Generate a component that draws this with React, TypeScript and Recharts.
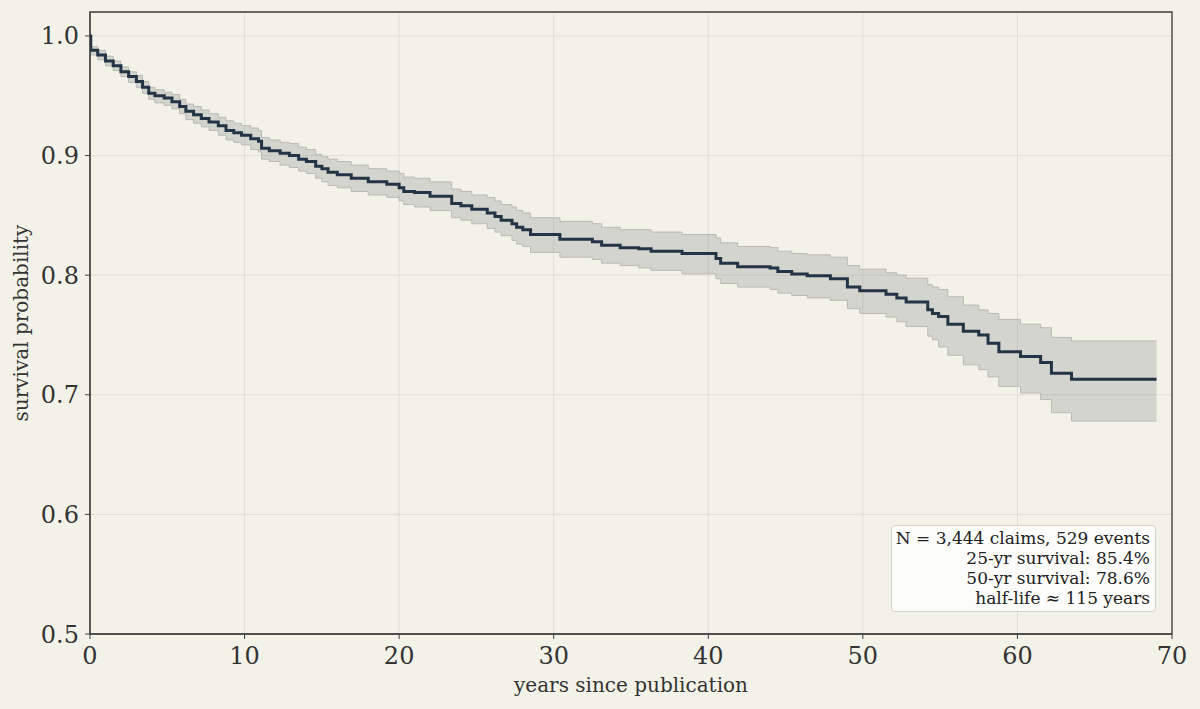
import { ComposedChart, Line, Area, XAxis, YAxis, CartesianGrid, ReferenceArea, Label } from "recharts";

// Kaplan-Meier estimate (step starts, years)
const stepTimes = [
  0, 0.05, 0.5, 1.0, 1.5, 2.0, 2.5, 3.0, 3.4, 3.8, 4.2, 4.8, 5.3, 5.8, 6.2, 6.7, 7.2, 7.7, 8.3, 8.8,
  9.3, 9.8, 10.4, 10.9, 11.1, 11.6, 12.3, 12.9, 13.5, 14.0, 14.6, 15.0, 15.4, 16.0, 16.9, 18.0, 19.2,
  20.0, 20.3, 21.0, 22.0, 23.4, 24.0, 24.7, 25.7, 26.2, 26.6, 27.3, 27.6, 28.0, 28.5, 30.4, 32.5,
  33.1, 34.3, 35.5, 36.3, 38.3, 40.5, 40.8, 41.9, 44.0, 44.5, 45.4, 46.4, 47.9, 49.0, 49.8, 51.5,
  52.2, 52.8, 54.2, 54.5, 54.9, 55.5, 56.5, 57.5, 58.1, 58.8, 60.2, 61.5, 62.2, 63.5, 69.0,
];

const survival = [
  1.0, 0.988, 0.984, 0.979, 0.975, 0.97, 0.966, 0.962, 0.957, 0.952, 0.95, 0.948, 0.945, 0.941, 0.937,
  0.934, 0.931, 0.928, 0.925, 0.921, 0.919, 0.917, 0.914, 0.912, 0.906, 0.904, 0.902, 0.9, 0.897,
  0.895, 0.891, 0.889, 0.886, 0.884, 0.881, 0.878, 0.876, 0.873, 0.87, 0.869, 0.866, 0.86, 0.858,
  0.855, 0.852, 0.849, 0.846, 0.843, 0.84, 0.838, 0.834, 0.83, 0.828, 0.825, 0.823, 0.822, 0.82,
  0.818, 0.814, 0.81, 0.807, 0.806, 0.803, 0.801, 0.7995, 0.797, 0.79, 0.787, 0.784, 0.781, 0.7775,
  0.771, 0.768, 0.7655, 0.759, 0.753, 0.75, 0.743, 0.736, 0.732, 0.727, 0.718, 0.713, 0.713,
];

const lowerCI = [
  1.0, 0.984, 0.98, 0.975, 0.971, 0.966, 0.961, 0.957, 0.952, 0.947, 0.944, 0.942, 0.939, 0.935, 0.93,
  0.927, 0.924, 0.921, 0.917, 0.913, 0.911, 0.909, 0.905, 0.903, 0.897, 0.895, 0.892, 0.89, 0.887,
  0.885, 0.881, 0.878, 0.875, 0.873, 0.87, 0.867, 0.865, 0.862, 0.859, 0.857, 0.854, 0.848, 0.846,
  0.843, 0.839, 0.836, 0.833, 0.829, 0.826, 0.824, 0.819, 0.815, 0.813, 0.81, 0.808, 0.806, 0.804,
  0.801, 0.797, 0.793, 0.79, 0.788, 0.785, 0.783, 0.781, 0.779, 0.772, 0.768, 0.765, 0.761, 0.757,
  0.749, 0.746, 0.74, 0.733, 0.725, 0.721, 0.715, 0.707, 0.7015, 0.696, 0.685, 0.678, 0.678,
];

const upperCI = [
  1.0, 0.991, 0.988, 0.983, 0.979, 0.974, 0.97, 0.967, 0.962, 0.957, 0.955, 0.953, 0.951, 0.947, 0.943,
  0.941, 0.938, 0.935, 0.932, 0.929, 0.927, 0.925, 0.923, 0.921, 0.915, 0.913, 0.911, 0.91, 0.907,
  0.905, 0.901, 0.899, 0.897, 0.895, 0.892, 0.889, 0.887, 0.885, 0.882, 0.881, 0.878, 0.872, 0.87,
  0.867, 0.865, 0.862, 0.859, 0.857, 0.854, 0.852, 0.848, 0.845, 0.843, 0.84, 0.838, 0.838, 0.836,
  0.834, 0.831, 0.827, 0.824, 0.823, 0.82, 0.818, 0.817, 0.815, 0.808, 0.805, 0.802, 0.8, 0.7975,
  0.792, 0.79, 0.788, 0.782, 0.775, 0.771, 0.768, 0.763, 0.759, 0.756, 0.748, 0.745, 0.745,
];

const xTicks = [0, 10, 20, 30, 40, 50, 60, 70];
const yTicks = [0.5, 0.6, 0.7, 0.8, 0.9, 1.0];

const statsLines = [
  "N = 3,444 claims, 529 events",
  "25-yr survival: 85.4%",
  "50-yr survival: 78.6%",
  "half-life \u2248 115 years",
];

const data = stepTimes.map((t, i) => ({
  t,
  s: survival[i],
  band: [lowerCI[i], upperCI[i]],
}));

const FONT = "'DejaVu Serif', serif";
const BG = "#f3f2e9";
const INK = "#333333";

export default function App() {
  return (
    <div style={{ position: "relative", width: 1200, height: 709, background: BG, fontFamily: FONT }}>
      <style>{`html, body { margin: 0; padding: 0; background: ${BG}; }`}</style>
      <ComposedChart
        width={1200}
        height={709}
        data={data}
        margin={{ top: 12, right: 28, bottom: 0, left: 0 }}
      >
        <CartesianGrid stroke="#e0dfd5" strokeWidth={1} />
        <XAxis
          type="number"
          dataKey="t"
          domain={[0, 70]}
          ticks={xTicks}
          allowDataOverflow
          height={75}
          tickSize={5}
          tickMargin={8}
          stroke="#3c3c3c"
          tick={{ fill: INK, fontSize: 24, fontFamily: FONT }}
        >
          <Label
            content={() => (
              <text x={631} y={692} textAnchor="middle" fill={INK} fontSize={20} fontFamily={FONT}>
                years since publication
              </text>
            )}
          />
        </XAxis>
        <YAxis
          type="number"
          domain={[0.5, 1.02]}
          ticks={yTicks}
          allowDataOverflow
          width={90}
          tickSize={5}
          tickMargin={6}
          stroke="#3c3c3c"
          tickFormatter={(v: number) => v.toFixed(1)}
          tick={{ fill: INK, fontSize: 24, fontFamily: FONT }}
        >
          <Label
            content={() => (
              <text
                x={28}
                y={323}
                transform="rotate(-90 28 323)"
                textAnchor="middle"
                fill={INK}
                fontSize={20}
                fontFamily={FONT}
              >
                survival probability
              </text>
            )}
          />
        </YAxis>
        <Area
          type="stepAfter"
          dataKey="band"
          fill="#7f8580"
          fillOpacity={0.27}
          stroke="#b9bab3"
          strokeWidth={1}
          isAnimationActive={false}
          activeDot={false}
        />
        <Line
          type="stepAfter"
          dataKey="s"
          stroke="#243447"
          strokeWidth={3}
          dot={false}
          activeDot={false}
          isAnimationActive={false}
        />
        <ReferenceArea x1={0} x2={70} y1={0.5} y2={1.02} fill="none" stroke="#3c3c3c" strokeWidth={1.3} />
      </ComposedChart>
      <div
        style={{
          position: "absolute",
          left: 891,
          top: 525,
          width: 265,
          height: 87,
          boxSizing: "border-box",
          padding: "2px 5px 0 0",
          background: "rgba(255,255,255,0.75)",
          border: "1px solid #d4d3cb",
          borderRadius: 4,
          textAlign: "right",
          fontSize: 17,
          lineHeight: "20px",
          color: "#222222",
          whiteSpace: "nowrap",
        }}
      >
        {statsLines.map((line) => (
          <div key={line}>{line}</div>
        ))}
      </div>
    </div>
  );
}
